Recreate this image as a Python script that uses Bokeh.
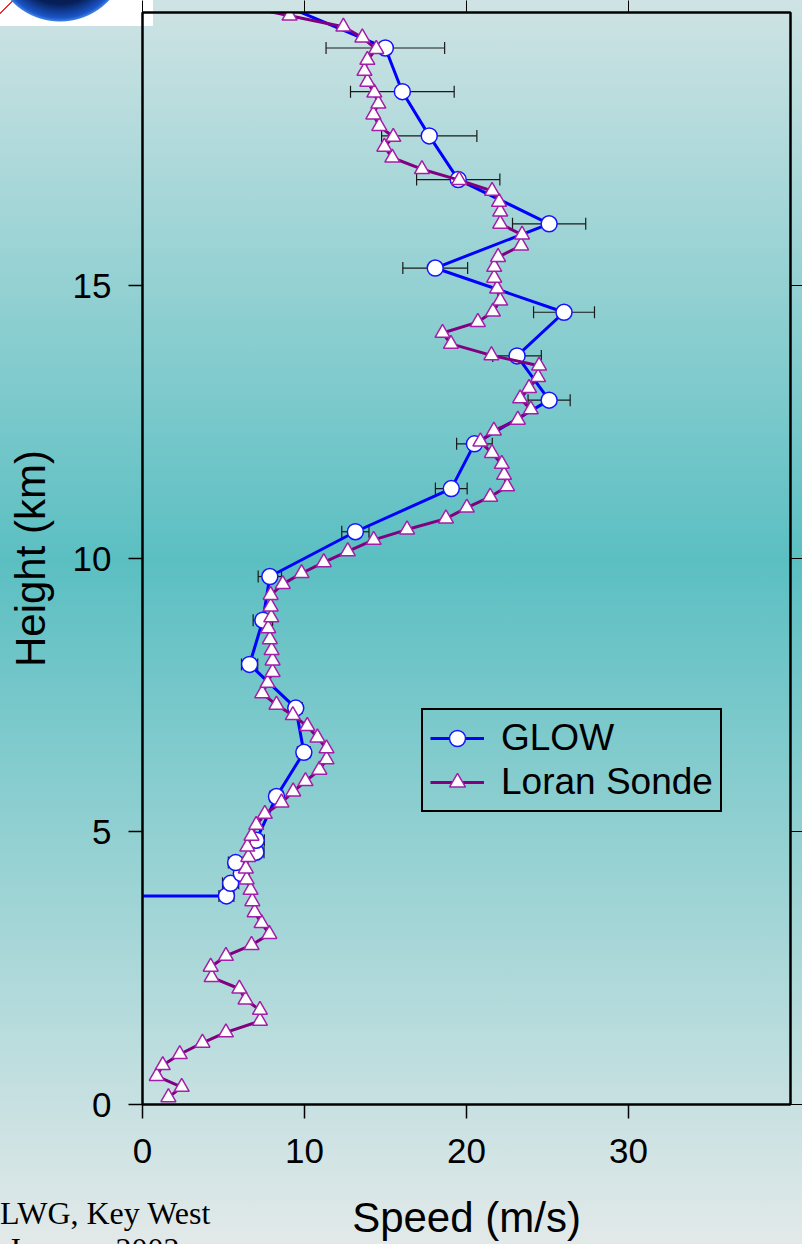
import numpy as np
from bokeh.plotting import figure
from bokeh.layouts import column
from bokeh.models import (Range1d, LinearAxis, FixedTicker, Legend, LegendItem,
                          Div, CustomLabelingPolicy)
from bokeh.embed import file_html
from bokeh.resources import INLINE

# ---------------- data ----------------
# Loran Sonde profile (height km, speed m/s)
loran_height = [0.13, 0.32, 0.52, 0.72, 0.92, 1.13, 1.32, 1.53, 1.73, 1.92,
                2.12, 2.33, 2.52, 2.72, 2.92, 3.12, 3.32, 3.52, 3.72, 3.93,
                4.12, 4.32, 4.53, 4.72, 4.92, 5.12, 5.32, 5.53, 5.73, 5.92,
                6.13, 6.32, 6.52, 6.72, 6.93, 7.13, 7.32, 7.53, 7.72, 7.92,
                8.13, 8.32, 8.52, 8.72, 8.92, 9.12, 9.33, 9.53, 9.73, 9.93,
                10.13, 10.34, 10.53, 10.73, 10.93, 11.13, 11.32, 11.53, 11.73, 11.93,
                12.14, 12.34, 12.54, 12.73, 12.93, 13.12, 13.32, 13.53, 13.72, 13.93,
                14.13, 14.33, 14.52, 14.72, 14.94, 15.14, 15.34, 15.52, 15.73, 15.93,
                16.13, 16.35, 16.53, 16.73, 16.93, 17.13, 17.34, 17.54, 17.72, 17.92,
                18.13, 18.33, 18.53, 18.73, 18.93, 19.13, 19.33, 19.54, 19.74, 19.94,
                20.14]
loran_speed = [1.60, 2.42, 0.88, 1.25, 2.30, 3.70, 5.15, 7.25, 7.25, 6.36,
               5.98, 4.27, 4.21, 5.15, 6.73, 7.83, 7.35, 6.92, 6.78, 6.67,
               6.43, 6.38, 6.53, 6.47, 6.73, 7.02, 7.55, 8.58, 9.30, 10.06,
               10.92, 11.36, 11.36, 10.80, 10.17, 9.28, 8.27, 7.39, 7.72, 8.03,
               8.03, 7.97, 7.86, 7.76, 7.95, 7.91, 7.91, 8.66, 9.82, 11.19,
               12.67, 14.27, 16.33, 18.73, 20.02, 21.46, 22.51, 22.32, 22.18, 21.57,
               20.86, 21.69, 23.17, 23.97, 23.31, 23.86, 24.42, 24.48, 21.54, 19.04,
               18.52, 20.70, 21.63, 22.08, 21.89, 21.71, 21.71, 21.95, 23.37, 23.43,
               22.08, 22.08, 22.01, 21.58, 19.55, 17.25, 15.42, 14.93, 15.48, 14.62,
               14.25, 14.56, 14.31, 13.88, 13.70, 13.88, 14.43, 13.57, 12.40, 9.08,
               5.87]

# GLOW profile (height km, speed m/s, error m/s)
glow_height = [3.82, 3.82, 4.05, 4.23, 4.43, 4.62, 4.84, 5.64, 6.45, 7.26,
               8.06, 8.87, 9.67, 10.49, 11.28, 12.10, 12.90, 13.71, 14.51, 15.32,
               16.13, 16.94, 17.74, 18.55, 19.35, 20.15]
glow_speed = [-8.0, 5.18, 5.44, 6.10, 5.75, 7.00, 7.02, 8.27, 9.96, 9.46,
              6.61, 7.43, 7.86, 13.14, 19.06, 20.49, 25.10, 23.12, 26.02, 18.07,
              25.10, 19.49, 17.70, 16.04, 14.99, 8.60]
glow_err = [0.0, 0.46, 0.5, 0.45, 0.45, 0.5, 0.5, 0.4, 0.4, 0.4,
            0.5, 0.6, 0.72, 0.84, 0.98, 1.1, 1.3, 1.5, 1.88, 2.0,
            2.26, 2.57, 2.94, 3.2, 3.66, 4.0]

x_ticks = [0, 10, 20, 30]
y_ticks = [0, 5, 10, 15]

FONT = "Liberation Sans"

# ---------------- figure ----------------
p = figure(width=802, height=1244, output_backend="svg", toolbar_location=None,
           x_range=Range1d(0, 40), y_range=Range1d(0, 20),
           min_border_left=142, min_border_right=11, min_border_top=12,
           min_border_bottom=140,
           x_axis_label="Speed (m/s)", y_axis_label="Height (km)")
p.background_fill_color = None
p.border_fill_color = None
p.outline_line_color = "black"
p.outline_line_width = 2
p.grid.visible = False
# slide background: logo fragment on white box + teal vertical gradient
p.styles = {
    "background": (
        "radial-gradient(circle 68px at 60px -46px, #050f33 0px, #071f58 50px, "
        "#1a55c8 64px, #3f7fe0 67px, rgba(0,0,0,0) 68px) no-repeat, "
        "linear-gradient(135deg, rgba(0,0,0,0) 9px, #e8303a 9px, #e8303a 10.5px, "
        "rgba(0,0,0,0) 10.5px) 0 0 / 20px 20px no-repeat, "
        "linear-gradient(#ffffff, #ffffff) 0 0 / 153px 26px no-repeat, "
        "linear-gradient(to bottom, #cfe3e4 0px, #5bbfc2 560px, #e3e9e9 1244px)"
    )
}

for ax, ticks, standoff in ((p.xaxis[0], x_ticks, 20), (p.yaxis[0], y_ticks, 17)):
    ax.ticker = FixedTicker(ticks=ticks)
    ax.minor_tick_line_color = None
    ax.major_tick_in = 0
    ax.major_tick_out = 14
    ax.major_tick_line_width = 1.5
    ax.axis_line_width = 2
    ax.major_label_text_font = FONT
    ax.major_label_text_font_size = "35px"
    ax.major_label_text_color = "black"
    ax.major_label_standoff = standoff
    ax.axis_label_text_font = FONT
    ax.axis_label_text_font_size = "42px"
    ax.axis_label_text_font_style = "normal"
    ax.axis_label_text_color = "black"
p.xaxis[0].axis_label_standoff = 28
p.yaxis[0].axis_label_standoff = 16

top_ax = LinearAxis(ticker=FixedTicker(ticks=x_ticks), major_tick_in=0, major_tick_out=12,
                    minor_tick_line_color=None, major_label_text_font_size="0px",
                    major_label_standoff=0, axis_line_width=2,
                    major_label_policy=CustomLabelingPolicy(code="return []"))
right_ax = LinearAxis(ticker=FixedTicker(ticks=y_ticks), major_tick_in=0, major_tick_out=12,
                      minor_tick_line_color=None, major_label_text_font_size="0px",
                      major_label_standoff=0, axis_line_width=2,
                      major_label_policy=CustomLabelingPolicy(code="return []"))
p.add_layout(top_ax, "above")
p.add_layout(right_ax, "right")

# ---------------- error bars ----------------
mask = [e > 0 for e in glow_err]
eh = [h for h, m in zip(glow_height, mask) if m]
lo = [s - e for s, e, m in zip(glow_speed, glow_err, mask) if m]
hi = [s + e for s, e, m in zip(glow_speed, glow_err, mask) if m]
p.segment(x0=lo, y0=eh, x1=hi, y1=eh, line_color="#1a1a1a", line_width=1.2)
p.scatter(x=lo + hi, y=eh + eh, marker="dash", angle=np.pi / 2, size=12,
          line_color="#1a1a1a", line_width=1.2)

# ---------------- series ----------------
g_line = p.line(glow_speed, glow_height, line_color="#0000ff", line_width=3)
g_pts = p.scatter(glow_speed, glow_height, marker="circle", size=16,
                  fill_color="white", line_color="#1414ff", line_width=1.5)

l_line = p.line(loran_speed, loran_height, line_color="#800080", line_width=3)
l_pts = p.scatter(loran_speed, loran_height, marker="triangle", size=15,
                  fill_color="white", line_color="#a31fa8", line_width=1.5)

legend = Legend(items=[LegendItem(label="GLOW", renderers=[g_line, g_pts]),
                       LegendItem(label="Loran Sonde", renderers=[l_line, l_pts])],
                location=(279, 292), margin=0, padding=7, spacing=2,
                glyph_width=54, glyph_height=40, label_standoff=17,
                label_text_font=FONT, label_text_font_size="37px",
                label_text_color="black",
                border_line_color="black", border_line_width=2, border_line_alpha=1,
                background_fill_alpha=0)
p.add_layout(legend)

# ---------------- slide footer text ----------------
footer = Div(text="LWG, Key West<br>&nbsp;January 2002",
             styles={"position": "absolute", "left": "-5px", "top": "1190px",
                     "font-family": "Liberation Serif", "font-size": "32px",
                     "line-height": "36px", "color": "black",
                     "white-space": "nowrap", "z-index": "5"})

layout = column(p, footer, width=802, height=1244,
                styles={"position": "relative", "overflow": "hidden"})

open("out.html", "w").write(file_html(layout, INLINE))
